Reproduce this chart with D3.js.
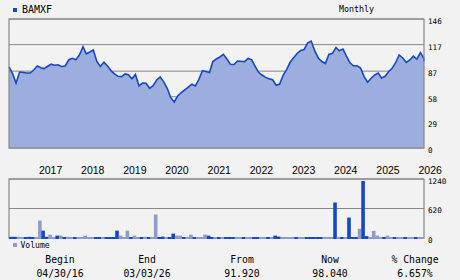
<!DOCTYPE html>
<html><head><meta charset="utf-8">
<script src="https://cdn.jsdelivr.net/npm/d3@7"></script>
<style>
html,body{margin:0;padding:0;background:#f2f2f2;}
svg{display:block;}
text{fill:#000;}
</style></head>
<body>
<svg id="c" width="460" height="280"></svg>
<script>
// ---- data ----
const symbol = "BAMXF";
const period = "Monthly";
const startDate = "2016-04-30";
const endDate = "2026-03-03";
// month-end closes, Apr 2016 .. Feb 2026, then last value on 2026-03-03
const prices = [91.92, 84.1, 73.6, 86.0, 85.5, 84.9, 84.9, 88.3, 92.8, 90.8,
 89.9, 92.5, 94.8, 93.6, 94.2, 92.0, 93.1, 99.9, 101.5, 99.9,
 105.3, 114.6, 106.6, 108.7, 110.9, 97.9, 92.2, 97.0, 92.8, 87.6,
 83.8, 81.1, 80.7, 83.8, 83.0, 78.3, 83.2, 70.2, 73.5, 73.2,
 67.6, 70.6, 77.0, 80.4, 74.9, 67.3, 57.2, 52.1, 58.9, 62.7,
 65.8, 69.0, 72.2, 70.2, 77.8, 87.5, 86.5, 85.4, 97.8, 100.7,
 103.0, 106.0, 100.7, 94.7, 94.5, 98.5, 98.2, 97.7, 101.3, 99.8,
 92.8, 85.7, 82.6, 79.9, 78.4, 77.3, 71.1, 72.4, 82.6, 89.0,
 97.3, 102.5, 107.0, 110.3, 111.5, 119.1, 121.1, 109.8, 101.9, 97.9,
 95.6, 105.8, 107.1, 113.7, 110.0, 112.0, 104.1, 96.4, 93.1, 93.1,
 90.5, 80.8, 74.5, 79.0, 82.6, 84.9, 79.2, 81.1, 86.4, 90.2,
 96.5, 105.3, 101.9, 96.8, 99.6, 103.9, 100.7, 107.9, 101.9, 98.04];
// monthly volume (thousands), Apr 2016 .. Feb 2026
const volumes = [15,25,25,25,10,10,25,15,20,366,
 155,25,70,15,50,50,20,25,10,15,
 10,15,50,15,15,15,15,10,20,15,
 20,155,50,20,155,20,50,15,10,25,
 15,10,493,10,30,10,20,92,50,50,
 10,20,70,20,10,20,70,50,20,10,
 20,10,15,15,20,20,20,20,10,20,
 20,15,10,20,10,20,50,30,20,20,
 20,20,10,20,10,20,20,20,20,20,
 10,20,20,746,20,10,20,430,20,20,
 193,1200,40,20,150,50,10,20,50,10,
 20,20,20,20,20,20,20,20,20];
// 1 = dark bar, 0 = light bar
const volDark = [1,1,1,0,0,1,1,1,0,0,
 1,1,0,0,1,0,1,0,0,1,
 0,0,0,0,0,1,1,0,1,1,
 1,1,0,0,0,1,0,0,1,0,
 1,0,0,1,1,0,1,1,0,0,
 1,0,0,1,0,0,0,1,1,0,
 1,0,1,1,1,0,0,1,0,0,
 1,1,0,0,1,0,1,1,0,0,
 0,0,1,0,0,1,1,1,1,1,
 0,0,0,1,0,1,0,1,1,1,
 0,1,1,0,0,0,0,1,0,0,
 1,0,0,1,0,0,1,0,0];
const priceTicks = [0, 29, 58, 87, 117, 146];
const volTicks = [0, 620, 1240];
const yearLabels = ["2017","2018","2019","2020","2021","2022","2023","2024","2025","2026"];
const statLabels = ["Begin","End","From","Now","% Change"];
const statValues = ["04/30/16","03/03/26","91.920","98.040","6.657%"];

// ---- build ----
const parse = d3.timeParse("%Y-%m-%d");
const t0 = parse(startDate), t1 = parse(endDate);
const dates = prices.map((p, i) => i === prices.length - 1 ? t1 : new Date(2016, 4 + i, 0));
const series = prices.map((p, i) => ({date: dates[i], value: p}));
const volSeries = volumes.map((v, i) => ({date: dates[i], value: v, dark: volDark[i]}));

const svg = d3.select("#c");
const L = 9, R = 424;
const x = d3.scaleTime().domain([t0, t1]).range([L, R]);
const y = d3.scaleLinear().domain([0, 146]).range([148, 19]);
const yv = d3.scaleLinear().domain([0, 1240]).range([238, 179]);

const dark = "#1448c8", light = "#8c9dcd", fill = "#9caedd", frame = "#888888";
const mono = "'DejaVu Sans Mono', monospace";

// title
svg.append("rect").attr("x", 13).attr("y", 8).attr("width", 4).attr("height", 4).attr("fill", dark);
svg.append("text").attr("x", 22).attr("y", 12.5).attr("font-family", mono).attr("font-size", 10).text(symbol);
svg.append("text").attr("x", 339).attr("y", 11.5).attr("font-family", mono).attr("font-size", 8.3).text(period);

// price panel grid
svg.append("g").selectAll("line").data(priceTicks).join("line")
  .attr("x1", L).attr("x2", R).attr("y1", d => y(d)).attr("y2", d => y(d))
  .attr("stroke", frame).attr("stroke-width", 1);

const area = d3.area().x(d => x(d.date)).y0(y(0)).y1(d => y(d.value));
const line = d3.line().x(d => x(d.date)).y(d => y(d.value));
svg.append("path").datum(series).attr("d", area).attr("fill", fill);
svg.append("path").datum(series).attr("d", line).attr("fill", "none")
  .attr("stroke", dark).attr("stroke-width", 1.6).attr("stroke-linejoin", "miter");

svg.append("rect").attr("x", L).attr("y", 19).attr("width", R - L).attr("height", 129)
  .attr("fill", "none").attr("stroke", frame).attr("stroke-width", 1.2);

svg.append("g").selectAll("text").data(priceTicks).join("text")
  .attr("x", 428).attr("y", d => y(d) + 5).attr("font-family", mono).attr("font-size", 7.6)
  .text(d => d);

// year labels
svg.append("g").selectAll("text").data(yearLabels).join("text")
  .attr("x", d => x(new Date(+d, 0, 1)) + 1.5).attr("y", 174)
  .attr("font-family", "'Liberation Sans', Arial, sans-serif").attr("font-size", 10.5)
  .text(d => d);

// volume panel
svg.append("g").selectAll("line").data(volTicks).join("line")
  .attr("x1", L).attr("x2", R).attr("y1", d => yv(d)).attr("y2", d => yv(d))
  .attr("stroke", frame).attr("stroke-width", 1);
svg.append("rect").attr("x", L).attr("y", 179).attr("width", R - L).attr("height", 59)
  .attr("fill", "none").attr("stroke", frame).attr("stroke-width", 1.2);
svg.append("g").selectAll("rect").data(volSeries).join("rect")
  .attr("x", d => Math.max(L, x(d.date) - 2.8))
  .attr("width", d => Math.min(x(d.date) + 0.8, R) - Math.max(L, x(d.date) - 2.8))
  .attr("y", d => Math.min(yv(d.value), yv(0) - 1))
  .attr("height", d => Math.max(yv(0) - yv(d.value), 1) + 1)
  .attr("fill", d => d.dark ? dark : light);
svg.append("g").selectAll("text").data(volTicks).join("text")
  .attr("x", 428).attr("y", d => yv(d) + 4.5).attr("font-family", mono).attr("font-size", 7.6)
  .text(d => d);

// volume legend
svg.append("rect").attr("x", 13).attr("y", 243).attr("width", 4).attr("height", 4).attr("fill", light);
svg.append("text").attr("x", 20.5).attr("y", 248).attr("font-family", mono).attr("font-size", 8.1).text("Volume");

// stats
const colX = [60, 147, 242, 330, 415];
svg.append("g").selectAll("text").data(statLabels).join("text")
  .attr("x", (d, i) => colX[i]).attr("y", 263).attr("text-anchor", "middle")
  .attr("font-family", mono).attr("font-size", 9.8).text(d => d);
svg.append("g").selectAll("text").data(statValues).join("text")
  .attr("x", (d, i) => colX[i]).attr("y", 276.5).attr("text-anchor", "middle")
  .attr("font-family", mono).attr("font-size", 9.8).text(d => d);
</script>
</body></html>
